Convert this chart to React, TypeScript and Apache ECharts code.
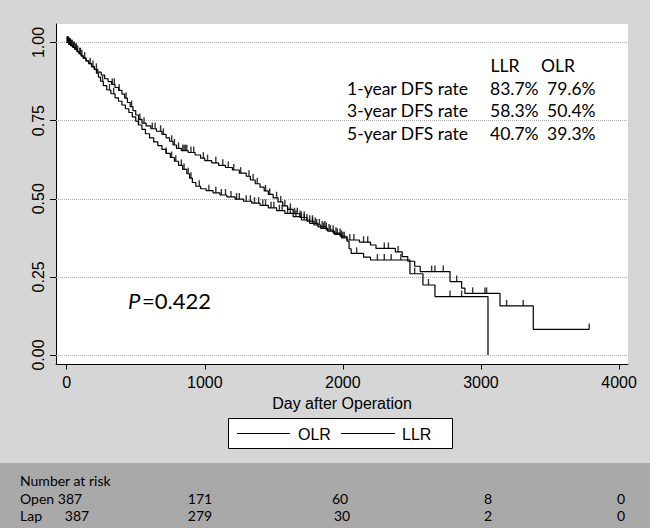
import React, { useEffect, useRef } from "react";
import * as echarts from "echarts";

// ---------- data ----------
const seriesNames = ["OLR", "LLR"];
const xTicks = [0, 1000, 2000, 3000, 4000];
const yTicks = [0, 0.25, 0.5, 0.75, 1];
const xTitle = "Day after Operation";

// Kaplan-Meier steps [day, survival after event]
const olrSteps: [number, number][] = [
  [0, 1], [15, 0.995], [30, 0.99], [45, 0.984], [60, 0.978], [75, 0.971], [90, 0.964], [105, 0.957],
  [120, 0.95], [140, 0.941], [160, 0.932], [180, 0.923], [200, 0.914], [215, 0.902], [230, 0.889],
  [245, 0.876], [265, 0.862], [290, 0.848], [320, 0.836], [350, 0.823], [375, 0.812], [400, 0.8],
  [425, 0.788], [450, 0.776], [475, 0.762], [500, 0.748], [520, 0.736], [545, 0.722], [570, 0.708],
  [600, 0.695], [630, 0.682], [660, 0.67], [690, 0.658], [720, 0.645], [750, 0.632], [780, 0.62],
  [810, 0.607], [840, 0.594], [870, 0.58], [890, 0.566], [910, 0.552], [935, 0.54], [970, 0.532],
  [1010, 0.526], [1060, 0.519], [1110, 0.512], [1160, 0.506], [1220, 0.499], [1280, 0.492],
  [1340, 0.486], [1400, 0.479], [1460, 0.471], [1520, 0.462], [1580, 0.453], [1640, 0.443],
  [1700, 0.432], [1760, 0.421], [1820, 0.41], [1880, 0.4], [1930, 0.39], [1980, 0.38], [2030, 0.368],
  [2120, 0.361], [2200, 0.352], [2240, 0.341], [2380, 0.33], [2430, 0.315], [2470, 0.3], [2520, 0.284],
  [2560, 0.267], [2776, 0.235], [2860, 0.214], [2884, 0.197], [3138, 0.157], [3379, 0.082], [3784, 0.082],
];
const llrSteps: [number, number][] = [
  [0, 1], [15, 0.995], [30, 0.99], [45, 0.984], [60, 0.978], [75, 0.971], [90, 0.964], [105, 0.957],
  [120, 0.95], [140, 0.941], [160, 0.932], [180, 0.923], [200, 0.914], [225, 0.905], [250, 0.896],
  [275, 0.884], [300, 0.875], [325, 0.866], [350, 0.856], [375, 0.847], [400, 0.835], [420, 0.822],
  [440, 0.808], [460, 0.795], [480, 0.782], [500, 0.768], [520, 0.754], [545, 0.742], [575, 0.733],
  [610, 0.724], [650, 0.716], [690, 0.706], [720, 0.695], [745, 0.684], [770, 0.672], [795, 0.661],
  [830, 0.654], [880, 0.648], [930, 0.64], [970, 0.63], [1000, 0.622], [1050, 0.615], [1100, 0.607],
  [1150, 0.6], [1200, 0.592], [1250, 0.582], [1300, 0.572], [1330, 0.56], [1365, 0.548], [1400, 0.537],
  [1430, 0.525], [1460, 0.514], [1495, 0.503], [1530, 0.49], [1565, 0.477], [1600, 0.466], [1640, 0.452],
  [1690, 0.44], [1740, 0.428], [1790, 0.416], [1840, 0.405], [1890, 0.396], [1940, 0.386], [1990, 0.375],
  [2030, 0.364], [2045, 0.34], [2060, 0.325], [2150, 0.313], [2200, 0.304], [2486, 0.26], [2580, 0.224],
  [2667, 0.187], [3051, 0],
];
// censoring times (days)
const olrCensor = [
  3, 8, 14, 22, 30, 40, 55, 65, 80, 100, 130, 170, 260, 310, 340, 520, 720, 760, 790, 830, 850, 880, 900,
  960, 1030, 1080, 1120, 1150, 1190, 1230, 1250, 1300, 1330, 1360, 1390, 1420, 1440, 1480, 1500, 1540,
  1560, 1600, 1620, 1660, 1690, 1720, 1740, 1780, 1800, 1850, 1870, 1900, 1950, 1990, 2050, 2080, 2150,
  2180, 2300, 2330, 2400, 2643, 2667, 2727, 2824, 2940, 3029, 3041, 3186, 3306, 3784,
];
const llrCensor = [
  5, 10, 18, 25, 35, 50, 70, 95, 110, 190, 215, 330, 345, 380, 430, 470, 530, 560, 620, 640, 680, 700,
  760, 780, 810, 840, 850, 860, 870, 900, 920, 990, 1020, 1080, 1130, 1170, 1210, 1260, 1320, 1350, 1380,
  1440, 1470, 1520, 1550, 1580, 1620, 1650, 1670, 1700, 1720, 1760, 1780, 1810, 1830, 1860, 1880, 1910,
  1930, 1960, 1980, 2000, 2010, 2100, 2250, 2300, 2350, 2420, 2520, 2620, 2776, 2860,
];

const rateHeader = ["LLR", "OLR"];
const rateRows = ["1-year DFS rate", "3-year DFS rate", "5-year DFS rate"];
const rateLLR = ["83.7%", "58.3%", "40.7%"];
const rateOLR = ["79.6%", "50.4%", "39.3%"];
const pValue = "0.422";

const riskTitle = "Number at risk";
const riskGroups = ["Open", "Lap"];
const riskOpen = [387, 171, 60, 8, 0];
const riskLap = [387, 279, 30, 2, 0];

// ---------- layout ----------
const W = 650;
const H = 528;
const narrow = "'Liberation Sans Narrow','Arial Narrow','Liberation Sans',Arial,sans-serif";
const calibri = "Lato,'Open Sans',sans-serif";
const riskColsOpen = [70, 200, 340, 488, 621];
const riskColsLap = [77, 200, 342, 488, 621];

function survAt(steps: [number, number][], t: number) {
  let s = steps[0][1];
  for (const [tt, v] of steps) {
    if (tt <= t) s = v;
    else break;
  }
  return s;
}

export default function App() {
  const ref = useRef<HTMLDivElement>(null);
  useEffect(() => {
    const chart = echarts.init(ref.current!, null, { renderer: "svg" });

    const txt = (text: string, x: number, y: number, font: string, align = "left", extra: any = {}) => ({
      type: "text",
      x,
      y,
      style: {
        text,
        font,
        fill: "#000",
        textAlign: align,
        align,
        textVerticalAlign: "middle",
        verticalAlign: "middle",
        ...extra,
      },
      silent: true,
    });

    const graphics: any[] = [
      { type: "rect", shape: { x: 0, y: 463, width: W, height: H - 463 }, style: { fill: "#a9a9a9" }, silent: true },
      // legend box
      { type: "rect", shape: { x: 228.5, y: 418.5, width: 224, height: 30 }, style: { fill: "#fff", stroke: "#000", lineWidth: 1 }, silent: true },
      { type: "line", shape: { x1: 237, y1: 433.5, x2: 290, y2: 433.5 }, style: { stroke: "#000", lineWidth: 1 }, silent: true },
      txt(seriesNames[0], 298, 434, `16px ${narrow}`),
      { type: "line", shape: { x1: 341, y1: 433.5, x2: 395, y2: 433.5 }, style: { stroke: "#000", lineWidth: 1 }, silent: true },
      txt(seriesNames[1], 402, 434, `16px ${narrow}`),
      // DFS table
      txt(rateHeader[0], 505, 65, `17.5px ${calibri}`, "center"),
      txt(rateHeader[1], 558, 65, `17.5px ${calibri}`, "center"),
      ...rateRows.map((r, i) => txt(r, 347, 88 + i * 22.5, `17.5px ${calibri}`)),
      ...rateLLR.map((r, i) => txt(r, 490, 88 + i * 22.5, `17.5px ${calibri}`)),
      ...rateOLR.map((r, i) => txt(r, 547, 88 + i * 22.5, `17.5px ${calibri}`)),
      // p value
      txt("P", 128, 300, `italic 22px ${calibri}`),
      txt("=" + pValue, 142, 300, `22px ${calibri}`),
      // number at risk
      txt(riskTitle, 20, 480, `14px ${calibri}`),
      txt(riskGroups[0], 20, 498, `14px ${calibri}`),
      txt(riskGroups[1], 20, 515, `14px ${calibri}`),
      ...riskOpen.map((v, i) => txt(String(v), riskColsOpen[i], 498, `14px ${calibri}`, "center")),
      ...riskLap.map((v, i) => txt(String(v), riskColsLap[i], 515, `14px ${calibri}`, "center")),
    ];

    const censorSeries = (name: string, steps: [number, number][], times: number[]) => ({
      name: name + " censored",
      type: "scatter",
      data: times.map((t) => [t, survAt(steps, t)]),
      symbol: "rect",
      symbolSize: [1.4, 6],
      symbolOffset: [0, -3],
      itemStyle: { color: "#000" },
      silent: true,
      z: 3,
    });

    chart.setOption({
      animation: false,
      backgroundColor: "#d6d6d6",
      grid: {
        left: 56,
        right: W - 628,
        top: 24,
        bottom: H - 364.5,
        show: true,
        backgroundColor: "#ffffff",
        borderWidth: 0,
      },
      xAxis: {
        type: "value",
        min: -77.5,
        max: 4065,
        name: xTitle,
        nameLocation: "middle",
        nameGap: 22,
        nameTextStyle: { fontFamily: narrow, fontSize: 16, color: "#000" },
        axisLine: { show: true, onZero: false, lineStyle: { color: "#000", width: 1 } },
        axisTick: { show: true, length: 5, lineStyle: { color: "#000" }, customValues: xTicks },
        axisLabel: {
          customValues: xTicks,
          color: "#000",
          fontFamily: narrow,
          fontSize: 16,
          margin: 10,
          formatter: (v: number) => String(v),
        },
        splitLine: { show: false },
      },
      yAxis: {
        type: "value",
        min: -0.0304,
        max: 1.0592,
        axisLine: { show: true, onZero: false, lineStyle: { color: "#000", width: 1 } },
        axisTick: { show: true, length: 6, lineStyle: { color: "#000" }, customValues: yTicks },
        axisLabel: {
          customValues: yTicks,
          rotate: 90,
          color: "#000",
          fontFamily: narrow,
          fontSize: 16,
          margin: 10,
          formatter: (v: number) => v.toFixed(2),
        },
        splitLine: { show: false },
      },
      graphic: graphics,
      series: [
        {
          name: seriesNames[0],
          type: "line",
          step: "end",
          data: olrSteps,
          showSymbol: false,
          symbol: "none",
          lineStyle: { color: "#000", width: 1.2 },
          silent: true,
          z: 2,
          markLine: {
            silent: true,
            symbol: "none",
            label: { show: false },
            lineStyle: { type: "dotted", color: "#b0b0b0", width: 1 },
            data: yTicks.map((v) => ({ yAxis: v })),
            z: 1,
          },
        },
        {
          name: seriesNames[1],
          type: "line",
          step: "end",
          data: llrSteps,
          showSymbol: false,
          symbol: "none",
          lineStyle: { color: "#000", width: 1.2 },
          silent: true,
          z: 2,
        },
        censorSeries(seriesNames[0], olrSteps, olrCensor),
        censorSeries(seriesNames[1], llrSteps, llrCensor),
      ],
    });
    return () => chart.dispose();
  }, []);
  return <div ref={ref} style={{ position: "absolute", left: 0, top: 0, width: W, height: H }} />;
}
